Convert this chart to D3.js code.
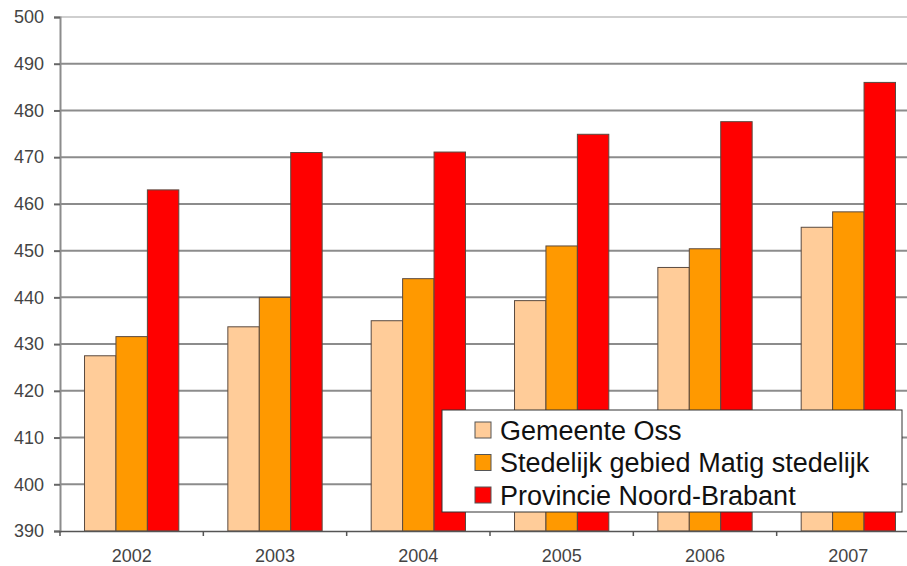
<!DOCTYPE html>
<html>
<head>
<meta charset="utf-8">
<script src="https://cdn.jsdelivr.net/npm/d3@7/dist/d3.min.js"></script>
<style>
  html, body { margin: 0; padding: 0; background: #fff; }
  svg { display: block; }
</style>
</head>
<body>
<svg id="chart" width="907" height="566"></svg>
<script>
// Years on the x axis
const years = ["2002", "2003", "2004", "2005", "2006", "2007"];
// Series names and values per year
const seriesNames = ["Gemeente Oss", "Stedelijk gebied Matig stedelijk", "Provincie Noord-Brabant"];
const gemeenteOss = [427.5, 433.7, 435.0, 439.3, 446.4, 455.0];
const stedelijkGebied = [431.6, 440.0, 444.0, 451.0, 450.4, 458.3];
const noordBrabant = [463.0, 471.0, 471.1, 474.9, 477.6, 486.0];
// Value-axis ticks
const yTicks = [390, 400, 410, 420, 430, 440, 450, 460, 470, 480, 490, 500];

const seriesValues = [gemeenteOss, stedelijkGebied, noordBrabant];
const colors = ["#FFCC99", "#FF9900", "#FF0000"];

const svg = d3.select("#chart");
const plotLeft = 60, plotRight = 920, plotTop = 17, plotBottom = 531;

const x = d3.scaleBand().domain(years).range([plotLeft, plotRight]).paddingInner(0).paddingOuter(0);
const inner = d3.scaleBand().domain(d3.range(seriesNames.length))
  .range([0, x.bandwidth()]).paddingInner(0).paddingOuter(0.78);
const y = d3.scaleLinear().domain([390, 500]).range([plotBottom, plotTop]);

// Horizontal gridlines
svg.append("g").selectAll("line").data(yTicks.filter(t => t > 390)).join("line")
  .attr("x1", plotLeft).attr("x2", 907)
  .attr("y1", d => y(d)).attr("y2", d => y(d))
  .attr("stroke", d => d === 500 ? "#cfcfcf" : "#8c8c8c")
  .attr("stroke-width", 2);

// Bars
const groups = svg.append("g").selectAll("g").data(years).join("g")
  .attr("transform", d => `translate(${x(d)},0)`);
groups.selectAll("rect")
  .data((yr, i) => seriesValues.map((vals, s) => ({ s, v: vals[i] })))
  .join("rect")
  .attr("x", d => inner(d.s))
  .attr("width", inner.bandwidth())
  .attr("y", d => y(d.v))
  .attr("height", d => y(390) - y(d.v))
  .attr("fill", d => colors[d.s])
  .attr("stroke", "#5a4a40")
  .attr("stroke-width", 1);

// Y axis
const yAxis = d3.axisLeft(y).tickValues(yTicks).tickSize(6).tickPadding(10).tickFormat(d3.format("d"));
const gy = svg.append("g").attr("transform", `translate(${plotLeft},0)`).call(yAxis);
gy.select(".domain").attr("stroke", "#8c8c8c").attr("stroke-width", 2);
gy.selectAll(".tick line").attr("stroke", "#666").attr("stroke-width", 2);
gy.selectAll(".tick text").attr("font-family", "Liberation Sans, Arial, sans-serif")
  .attr("font-size", 18).attr("fill", "#444");

// X axis
const xAxis = d3.axisBottom(x).tickSize(0).tickPadding(18);
const gx = svg.append("g").attr("transform", `translate(0,${plotBottom})`).call(xAxis);
gx.select(".domain").attr("stroke", "#555").attr("stroke-width", 1.5);
gx.selectAll(".tick text").attr("font-family", "Liberation Sans, Arial, sans-serif")
  .attr("font-size", 18).attr("fill", "#444");
// Category separators below the axis line
svg.append("g").selectAll("line").data(years).join("line")
  .attr("x1", d => x(d)).attr("x2", d => x(d))
  .attr("y1", plotBottom).attr("y2", plotBottom + 5)
  .attr("stroke", "#555").attr("stroke-width", 1.5);

// Legend
const lg = svg.append("g").attr("transform", "translate(442,410)");
lg.append("rect").attr("width", 460).attr("height", 102)
  .attr("fill", "#fff").attr("stroke", "#333").attr("stroke-width", 1);
const rows = lg.selectAll("g").data(seriesNames).join("g")
  .attr("transform", (d, i) => `translate(0,${20 + i * 32.5})`);
rows.append("rect").attr("x", 33).attr("y", -8).attr("width", 16).attr("height", 16)
  .attr("fill", (d, i) => colors[i]).attr("stroke", "#555").attr("stroke-width", 1);
rows.append("text").attr("x", 58).attr("y", 0).attr("dy", "0.36em")
  .attr("font-family", "Liberation Sans, Arial, sans-serif")
  .attr("font-size", 27).attr("fill", "#111")
  .text(d => d);
</script>
</body>
</html>
